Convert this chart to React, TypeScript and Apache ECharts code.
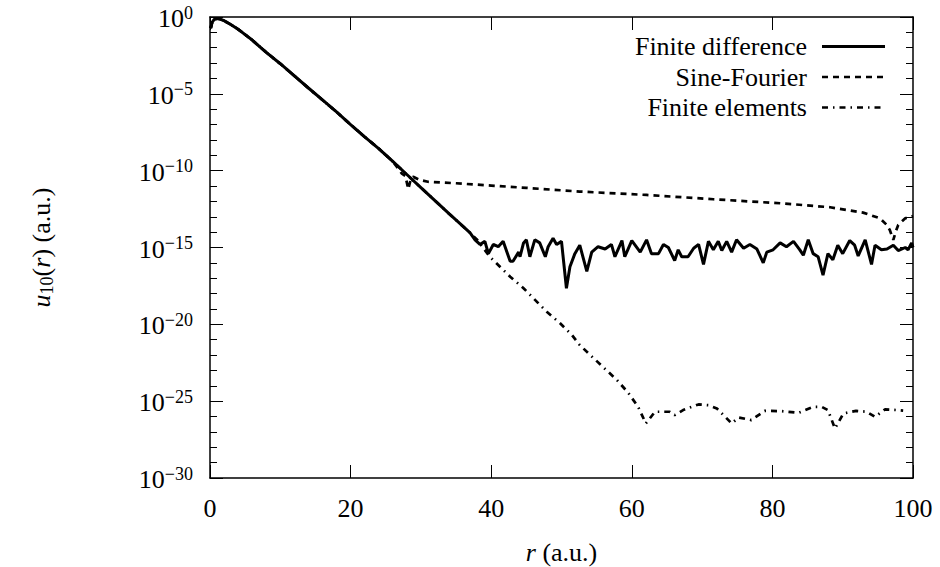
import React, { useEffect, useRef } from "react";
import * as echarts from "echarts";

// Axis ticks
const xTicks = [0, 20, 40, 60, 80, 100];
const yTickExponents = [0, -5, -10, -15, -20, -25, -30];

// Series names (legend order)
const seriesNames = ["Finite difference", "Sine-Fourier", "Finite elements"];

// Shared exponential decay part, r (a.u.) and log10(u10)
const decayR = [0.1, 0.3, 0.6, 1.0, 1.5, 2, 3, 4, 5, 6, 8, 10, 12, 14, 16, 18, 20, 22, 24, 26];
const decayLog = [-0.72, -0.35, -0.16, -0.1, -0.15, -0.24, -0.5, -0.8, -1.15, -1.5, -2.3, -3.04, -3.83, -4.62, -5.4, -6.18, -7.0, -7.8, -8.56, -9.4];

// Finite difference tail
const fdR = [28, 30, 32, 34, 36, 37, 37.7, 38.4, 39.1, 39.6, 40.3, 41.0, 41.7, 42.7, 43.1, 43.9, 44.1, 44.6, 45.0, 45.5, 46.2, 46.9, 47.7, 48.1, 48.8, 49.3, 50.0, 50.7, 51.2, 51.9, 52.6, 53.6, 54.3, 55.2, 56.2, 57.1, 57.6, 58.6, 59.0, 60.0, 61.2, 62.1, 62.8, 63.8, 64.5, 65.2, 66.1, 66.6, 67.1, 68.0, 68.8, 69.5, 70.2, 70.9, 71.6, 72.3, 72.8, 73.5, 74.2, 74.9, 75.9, 76.8, 77.8, 78.7, 79.2, 80.1, 81.1, 82.0, 83.0, 83.9, 84.4, 85.1, 85.8, 86.5, 87.2, 87.9, 88.6, 89.3, 90.0, 91.0, 91.7, 92.2, 93.2, 94.1, 94.6, 95.5, 96.3, 97.2, 97.9, 98.9, 99.3, 99.8, 100];
const fdLog = [-10.25, -11.1, -11.95, -12.8, -13.63, -14.05, -14.5, -14.8, -14.6, -15.4, -14.8, -14.95, -14.6, -15.9, -15.9, -15.3, -15.6, -14.7, -14.5, -15.6, -14.5, -14.7, -15.6, -14.95, -14.4, -14.8, -14.6, -17.65, -16.25, -15.4, -14.85, -16.55, -15.3, -14.95, -15.1, -14.8, -15.6, -14.55, -15.6, -14.55, -15.3, -14.5, -15.4, -15.4, -14.8, -15.0, -15.85, -15.15, -15.6, -15.6, -15.05, -14.8, -16.1, -14.6, -15.15, -14.6, -15.2, -14.6, -15.3, -14.5, -15.05, -14.8, -15.1, -16.0, -15.3, -15.15, -14.7, -14.95, -14.6, -15.15, -15.5, -14.5, -15.4, -15.6, -16.8, -15.4, -15.8, -14.85, -15.4, -14.55, -14.85, -15.55, -14.5, -16.1, -14.85, -15.15, -15.1, -14.85, -15.2, -15.0, -15.15, -14.7, -15.0];

// Sine-Fourier tail
const sfR = [27.3, 27.8, 28.2, 28.6, 28.9, 29.8, 31, 35, 40, 45, 52.6, 62.1, 71.6, 81.1, 88.2, 92.9, 95.3, 96.2, 96.7, 97.2, 97.6, 97.9, 98.9, 100];
const sfLog = [-10.2, -10.35, -11.2, -10.5, -10.4, -10.6, -10.72, -10.82, -10.97, -11.12, -11.36, -11.58, -11.86, -12.12, -12.38, -12.73, -13.1, -13.5, -13.86, -14.5, -13.9, -13.53, -13.1, -12.95];

// Finite elements tail
const feR = [28, 30, 32, 34, 36, 37, 38, 39.8, 42.7, 44.6, 47.9, 49.8, 51.5, 52.6, 54.8, 56.2, 57.9, 59.5, 60.9, 62.0, 63.3, 65.4, 66.1, 67.3, 69.5, 70.9, 72.1, 73.5, 74.2, 75.2, 77.0, 78.9, 81.3, 83.7, 85.8, 87.0, 87.9, 88.9, 90.1, 91.9, 93.4, 94.6, 96.0, 97.7, 98.6];
const feLog = [-10.25, -11.1, -11.95, -12.8, -13.63, -14.05, -14.5, -15.6, -16.9, -17.65, -19.18, -19.93, -20.7, -21.35, -22.3, -22.9, -23.63, -24.46, -25.37, -26.45, -25.69, -25.69, -25.91, -25.58, -25.21, -25.26, -25.47, -26.12, -26.45, -26.06, -26.23, -25.63, -25.65, -25.76, -25.37, -25.37, -25.58, -26.78, -25.8, -25.63, -25.69, -26.02, -25.54, -25.58, -25.62];

const FONT = "Liberation Serif";

const lineStyles: any[] = [
  { color: "#000", width: 3, type: "solid" },
  { color: "#000", width: 2.7, type: [6, 5] },
  { color: "#000", width: 2.7, type: [6, 5, 1.5, 5] },
];

function zip(r: number[], y: number[]) {
  return r.map((v, i) => [v, y[i]]);
}

export default function App() {
  const ref = useRef<HTMLDivElement>(null);

  useEffect(() => {
    document.body.style.margin = "0";
    if (!ref.current) return;
    const chart = echarts.init(ref.current, undefined, { renderer: "svg" });

    const xMin = xTicks[0];
    const xMax = xTicks[xTicks.length - 1];
    const xInt = xTicks[1] - xTicks[0];
    const yMax = yTickExponents[0];
    const yMin = yTickExponents[yTickExponents.length - 1];
    const yInt = yTickExponents[0] - yTickExponents[1];

    const axisLine = { show: true, onZero: false, lineStyle: { color: "#000", width: 1.5 } };
    const tickStyle = { color: "#000", width: 1 };

    const baseAxis = {
      type: "value",
      axisLine,
      axisTick: { show: true, inside: true, length: 13, lineStyle: tickStyle },
      axisLabel: { show: false },
      splitLine: { show: false },
    };

    const option: any = {
      animation: false,
      backgroundColor: "#fff",
      grid: { left: 210, right: 27, top: 17, bottom: 89, containLabel: false },
      xAxis: [
        { ...baseAxis, min: xMin, max: xMax, interval: xInt, position: "bottom" },
        { ...baseAxis, min: xMin, max: xMax, interval: xInt, position: "top" },
      ],
      yAxis: [
        {
          ...baseAxis,
          min: yMin,
          max: yMax,
          interval: yInt,
          position: "left",
          minorTick: { show: true, splitNumber: 5, length: 7, lineStyle: tickStyle },
          minorSplitLine: { show: false },
        },
        {
          ...baseAxis,
          min: yMin,
          max: yMax,
          interval: yInt,
          position: "right",
          minorTick: { show: true, splitNumber: 5, length: 7, lineStyle: tickStyle },
          minorSplitLine: { show: false },
        },
      ],
      series: [
        {
          name: seriesNames[2],
          type: "line",
          xAxisIndex: 0,
          yAxisIndex: 0,
          symbol: "none",
          data: zip(decayR.concat(feR), decayLog.concat(feLog)),
          lineStyle: lineStyles[2],
        },
        {
          name: seriesNames[1],
          type: "line",
          xAxisIndex: 0,
          yAxisIndex: 0,
          symbol: "none",
          data: zip(decayR.concat(sfR), decayLog.concat(sfLog)),
          lineStyle: lineStyles[1],
        },
        {
          name: seriesNames[0],
          type: "line",
          xAxisIndex: 0,
          yAxisIndex: 0,
          symbol: "none",
          data: zip(decayR.concat(fdR), decayLog.concat(fdLog)),
          lineStyle: lineStyles[0],
        },
      ],
    };

    chart.setOption(option);

    // Texts placed through the chart's own scales
    const px = (v: number) => chart.convertToPixel({ xAxisIndex: 0 }, v) as number;
    const py = (v: number) => chart.convertToPixel({ yAxisIndex: 0 }, v) as number;
    const left = px(xMin);
    const right = px(xMax);
    const bottom = py(yMin);
    const top = py(yMax);

    const buildGraphics = () => {
      const g: any[] = [];

      xTicks.forEach((v) => {
        g.push({
          type: "text",
          silent: true,
          x: px(v),
          y: bottom + 30.5,
          style: { text: String(v), fontFamily: FONT, fontSize: 26, fill: "#000", align: "center", verticalAlign: "middle" },
        });
      });

      yTickExponents.forEach((v) => {
        g.push({
          type: "text",
          silent: true,
          x: left - 17,
          y: py(v) + 1.5,
          style: {
            text: `{b|10}{s|${v === 0 ? "0" : "\u2212" + Math.abs(v)}}`,
            fontFamily: FONT,
            fontSize: 26,
            fill: "#000",
            align: "right",
            verticalAlign: "middle",
            rich: {
              b: { fontFamily: FONT, fontSize: 26, lineHeight: 30, fill: "#000" },
              s: { fontFamily: FONT, fontSize: 18, lineHeight: 22, verticalAlign: "top", fill: "#000" },
            },
          },
        });
      });

      g.push({
        type: "text",
        silent: true,
        x: (left + right) / 2,
        y: bottom + 74,
        style: {
          text: "{it|r} (a.u.)",
          fontFamily: FONT,
          fontSize: 26,
          fill: "#000",
          align: "center",
          verticalAlign: "middle",
          rich: { it: { fontFamily: FONT, fontSize: 26, fontStyle: "italic", lineHeight: 30, fill: "#000" } },
        },
      });

      g.push({
        type: "text",
        silent: true,
        x: left - 169,
        y: (top + bottom) / 2,
        rotation: Math.PI / 2,
        style: {
          text: "{it|u}{sub|10}({it|r}) (a.u.)",
          fontFamily: FONT,
          fontSize: 26,
          fill: "#000",
          align: "center",
          verticalAlign: "middle",
          rich: {
            it: { fontFamily: FONT, fontSize: 26, fontStyle: "italic", lineHeight: 30, fill: "#000" },
            sub: { fontFamily: FONT, fontSize: 18, lineHeight: 18, verticalAlign: "bottom", fill: "#000" },
          },
        },
      });

      const legendRows = [46.5, 77, 107.5];
      seriesNames.forEach((name, i) => {
        g.push({
          type: "text",
          silent: true,
          x: 807,
          y: legendRows[i],
          style: { text: name, fontFamily: FONT, fontSize: 26, fill: "#000", align: "right", verticalAlign: "middle" },
        });
        const ls = lineStyles[i];
        g.push({
          type: "line",
          silent: true,
          shape: { x1: 822, y1: legendRows[i], x2: 885, y2: legendRows[i] },
          style: {
            stroke: ls.color,
            lineWidth: ls.width,
            lineDash: Array.isArray(ls.type) ? ls.type : null,
          },
        });
      });
      return g;
    };

    chart.setOption({ graphic: buildGraphics() });

    let alive = true;
    const fontsApi: any = (document as any).fonts;
    if (fontsApi && fontsApi.load) {
      Promise.all([
        fontsApi.load(`26px "${FONT}"`),
        fontsApi.load(`italic 26px "${FONT}"`),
      ])
        .catch(() => null)
        .then(() => {
          if (!alive || chart.isDisposed()) return;
          chart.setOption({ graphic: buildGraphics() }, { replaceMerge: ["graphic"] });
        });
    }

    return () => {
      alive = false;
      chart.dispose();
    };
  }, []);

  return (
    <div style={{ position: "relative", fontFamily: FONT }}>
      <span
        aria-hidden="true"
        style={{ position: "absolute", left: -2000, top: -2000, fontFamily: FONT, fontSize: 26 }}
      >
        r <i>u</i>
      </span>
      <div ref={ref} style={{ width: 940, height: 567, fontFamily: FONT }} />
    </div>
  );
}
